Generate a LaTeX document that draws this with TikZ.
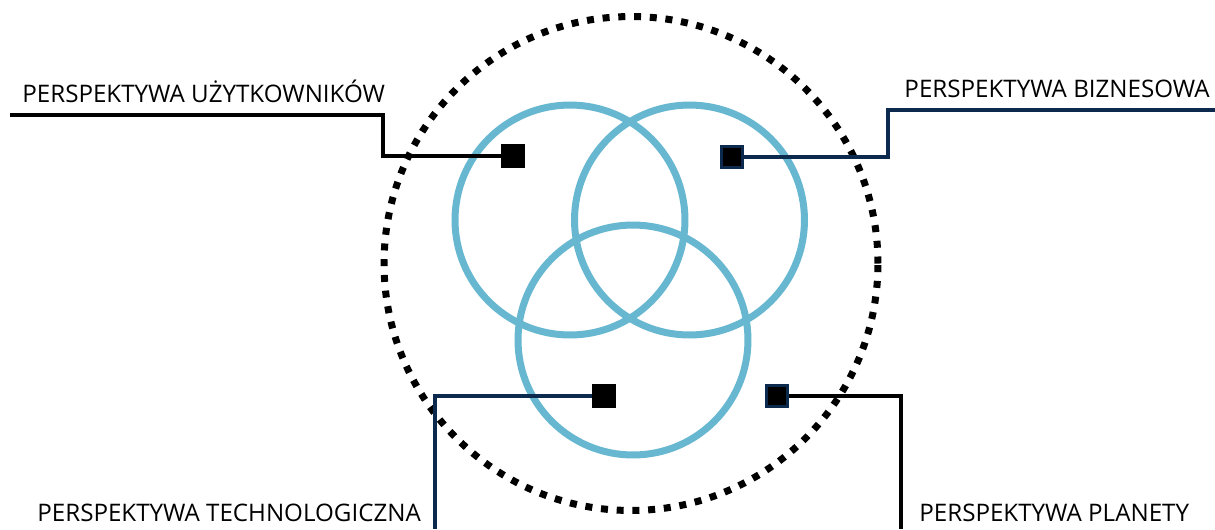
\documentclass[tikz,border=0pt]{standalone}
\usepackage{fontspec}
\setmainfont{Open Sans}
\usetikzlibrary{positioning}
\definecolor{VennBlue}{RGB}{103,183,209}
\definecolor{NavyLine}{RGB}{11,42,78}
\tikzset{
  venn/.style={circle,draw=VennBlue,line width=0.14cm,minimum size=4.6cm,inner sep=0pt},
  outer/.style={circle,draw=black,line width=0.14cm,dash pattern=on 0.14cm off 0.175cm,
    minimum size=9.88cm,inner sep=0pt},
  darkline/.style={draw=black,line width=0.085cm},
  navyline/.style={draw=NavyLine,line width=0.085cm},
  blacksq/.style={draw=none,fill=black,minimum size=0.48cm,inner sep=0pt},
  navysq/.style={draw=NavyLine,fill=black,line width=0.05cm,minimum size=0.42cm,inner sep=0pt},
  label/.style={font=\fontsize{13.75pt}{16pt}\selectfont,inner sep=0pt}
}

\begin{document}
\begin{tikzpicture}[x=0.02cm,y=-0.02cm]
  \useasboundingbox (0,0) rectangle (1215,529);
  % outer dotted ring
  \node[outer] (ring) at (631,263.5) {};
  % the three circles
  \node[venn] (users) at (570,220) {};
  \node[venn] (biz) at (689.5,220) {};
  \node[venn] (tech) at (633,340) {};
  % markers
  \node[blacksq] (usersq) at (513,156) {};
  \node[navysq] (bizsq) at (732,157) {};
  \node[blacksq] (techsq) at (604,396) {};
  \node[navysq] (plansq) at (777,396) {};
  % free ends of the leader lines
  \coordinate (userend) at (10,115);
  \coordinate (bizend) at (1215,110);
  \coordinate (techend) at (435,529);
  \coordinate (planend) at (901,529);
  \draw[darkline] (usersq.center) -- (383,156) |- (userend);
  \draw[navyline] (bizsq.east) -- (888,157) |- (bizend);
  \draw[navyline] (techsq.center) -| (techend);
  \draw[darkline] (plansq.east) -| (planend);
  \node[blacksq] at (usersq) {};
  \node[blacksq] at (techsq) {};
  % labels
  \node[label,anchor=base west] (userlbl) at (22,102) {PERSPEKTYWA UŻYTKOWNIKÓW};
  \node[label,anchor=base east] (bizlbl) at (1210,97) {PERSPEKTYWA BIZNESOWA};
  \node[label,anchor=base west] (techlbl) at (37,521) {PERSPEKTYWA TECHNOLOGICZNA};
  \node[label,anchor=base west] (planlbl) at (919,521) {PERSPEKTYWA PLANETY};
\end{tikzpicture}
\end{document}
